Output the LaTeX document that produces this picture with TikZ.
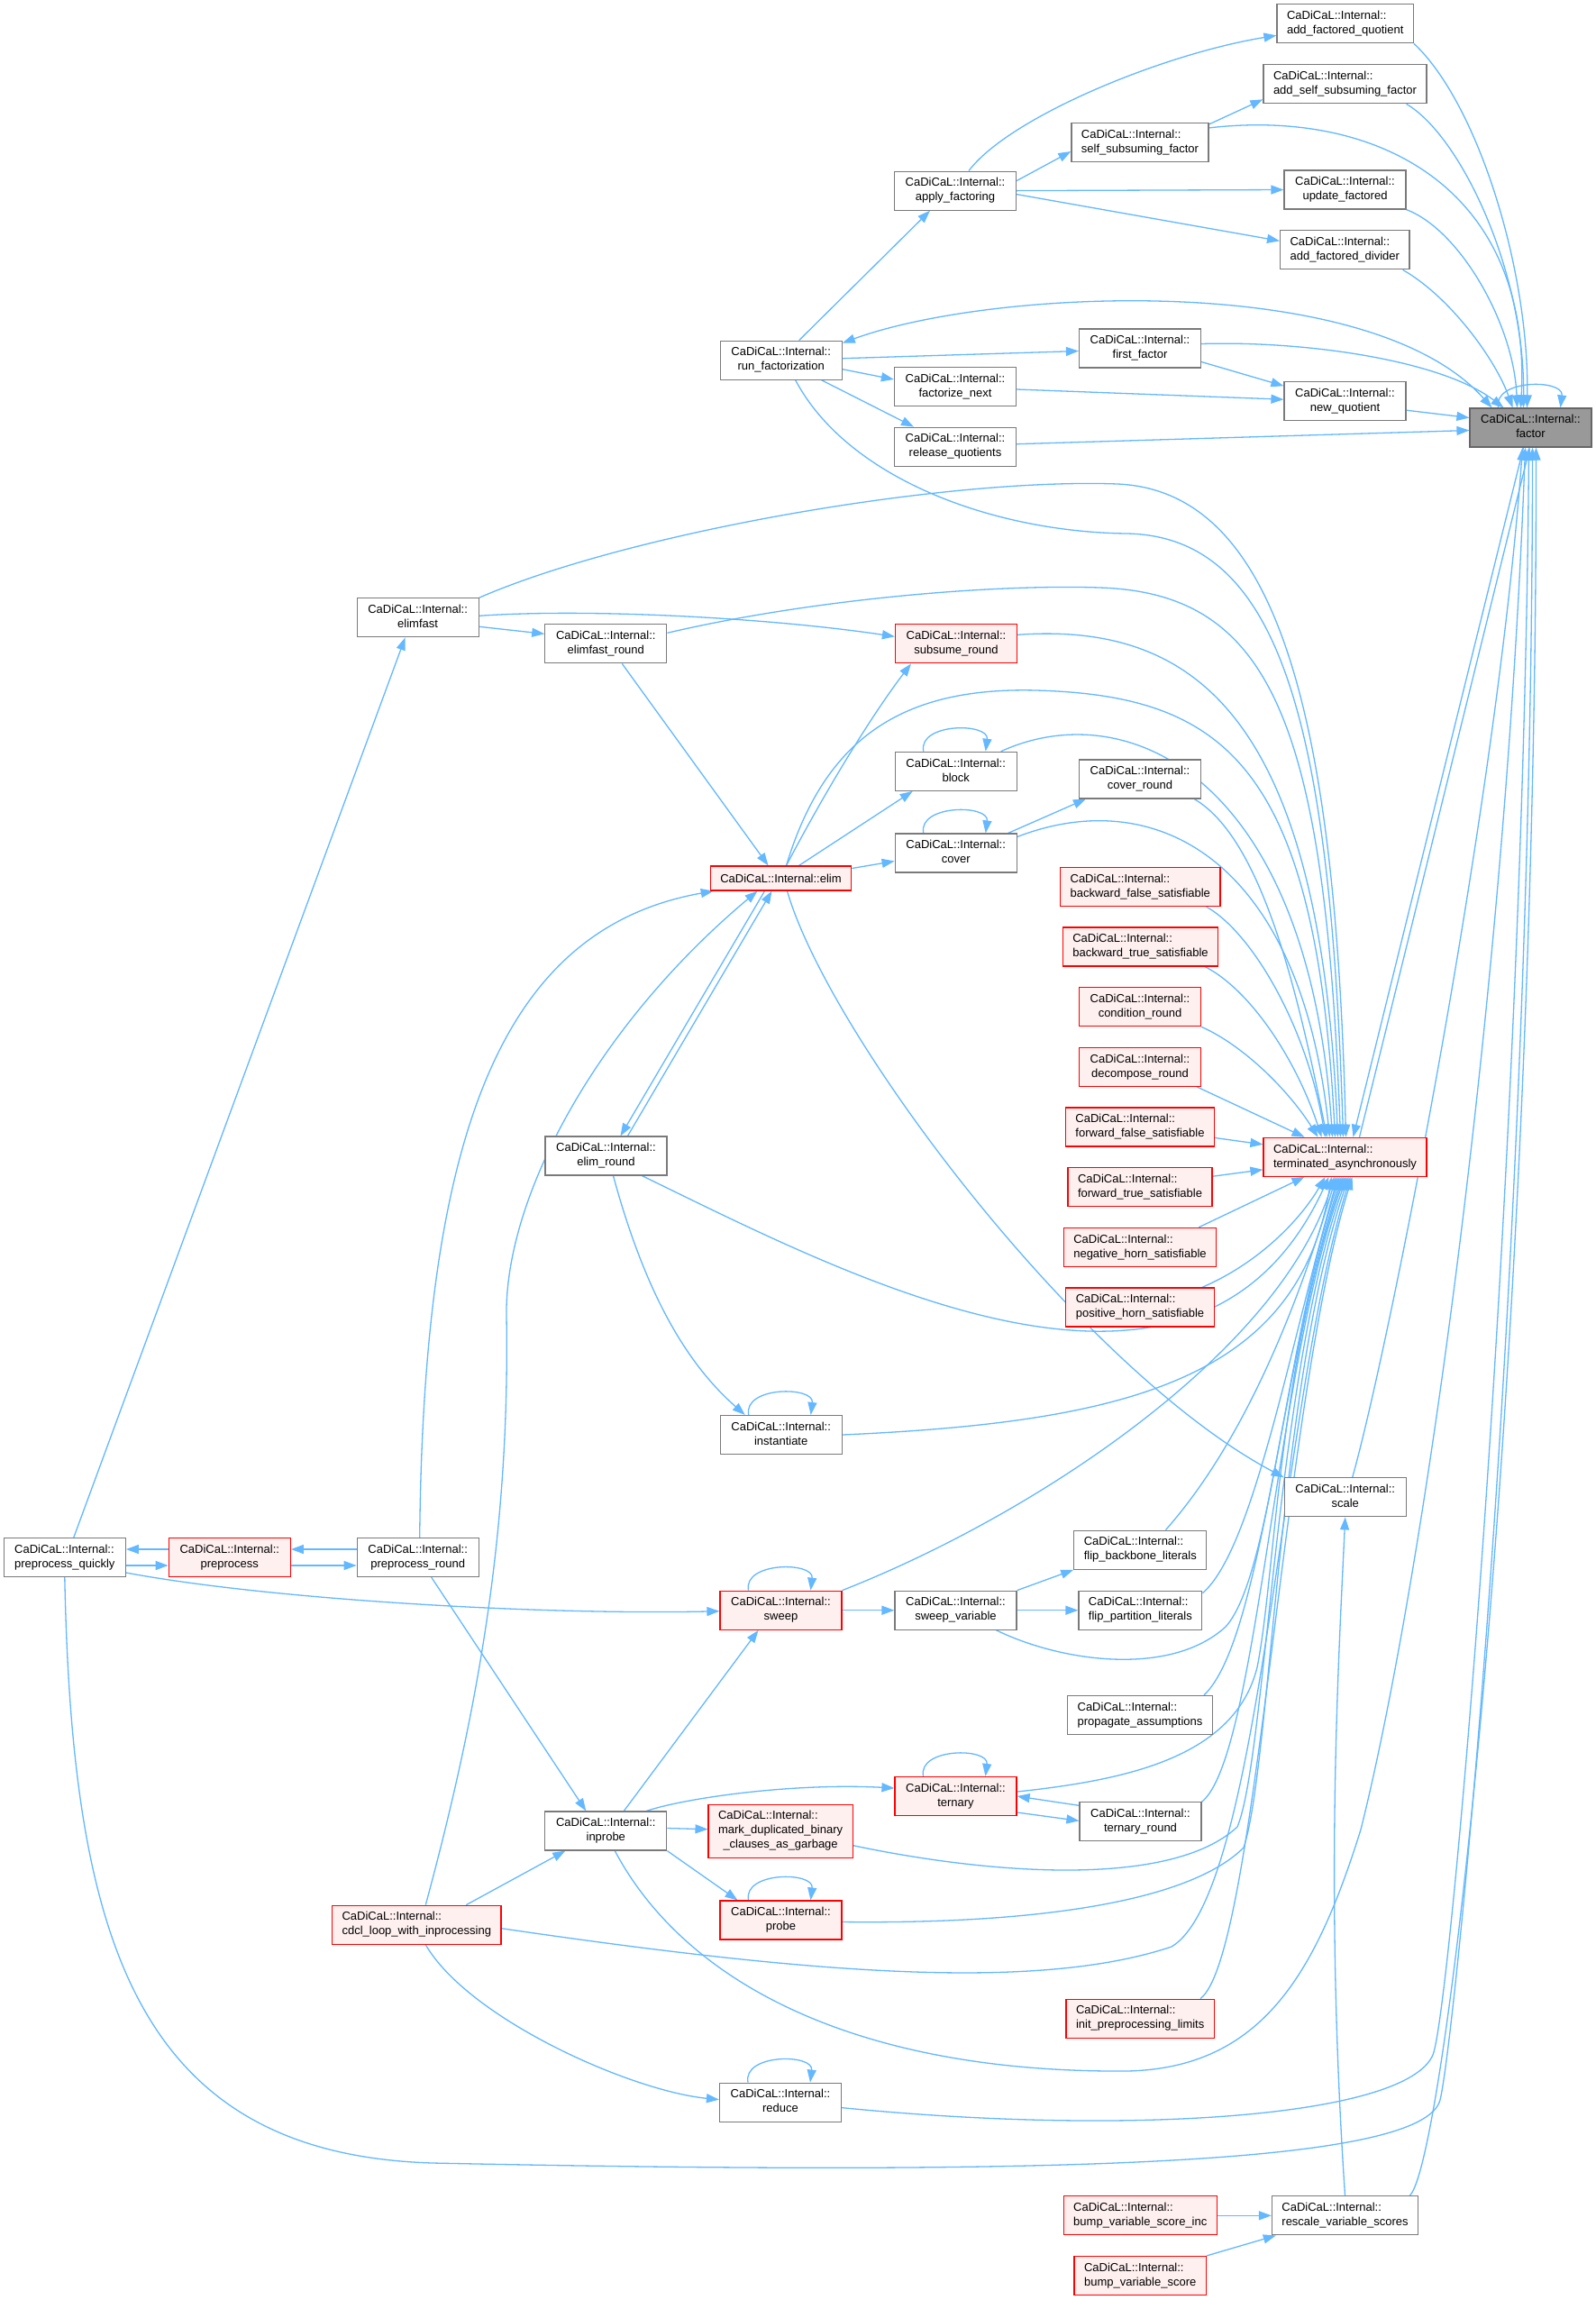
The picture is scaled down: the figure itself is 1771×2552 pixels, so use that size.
\documentclass[tikz,border=0pt]{standalone}
\usepackage{fontspec}
\setmainfont{Liberation Sans}
\usetikzlibrary{arrows.meta}
\pgfdeclarelayer{bg}
\pgfdeclarelayer{edges}
\pgfsetlayers{bg,edges,main}
\definecolor{edgeblue}{HTML}{63B8FF}
\definecolor{ngray}{HTML}{7A7A7A}
\definecolor{redborder}{HTML}{FF0000}
\definecolor{redfill}{HTML}{FFF0F0}
\definecolor{rootfill}{HTML}{999999}
\definecolor{rootborder}{HTML}{666666}
\newcommand{\cglabel}[1]{\begin{tabular}{@{}l@{}}CaDiCaL::Internal::\\\multicolumn{1}{@{}c@{}}{#1}\end{tabular}}
\newcommand{\cgloop}[1]{\draw[cgedge] ([xshift=-36pt]#1.north) .. controls +(-6,-32) and +(4,-32) .. ([xshift=33pt]#1.north);}
\tikzset{
  cgnode/.style={draw=ngray, fill=white, line width=1.2pt, inner xsep=11pt, inner ysep=2pt,
    minimum width=135pt, minimum height=43pt, font=\fontsize{13}{16}\selectfont},
  cgred/.style={cgnode, draw=redborder, fill=redfill},
  cgroot/.style={cgnode, draw=rootborder, fill=rootfill},
  cgedge/.style={draw=edgeblue, line width=1.3pt, ->},
  cgboth/.style={draw=edgeblue, line width=1.3pt, <->}
}
\begin{document}
\begin{tikzpicture}[x=1pt,y=-1pt,>={Triangle[length=14pt,width=10pt]}]
\begin{pgfonlayer}{bg}
\fill[white] (0,0) rectangle (1771,2552);
\end{pgfonlayer}
\useasboundingbox (0,0) rectangle (1771,2552);

% ---------- nodes ----------
\node[cgroot] (factor) at (1698.5,474.5) {\cglabel{factor}};
\node[cgnode] (afq) at (1492.7,26.3) {\cglabel{add\_factored\_quotient}};
\node[cgnode] (assf) at (1492.5,93.3) {\cglabel{add\_self\_subsuming\_factor}};
\node[cgnode] (ssf) at (1265,158) {\cglabel{self\_subsuming\_factor}};
\node[cgnode] (af) at (1060,211.6) {\cglabel{apply\_factoring}};
\node[cgnode] (uf) at (1492.5,210.5) {\cglabel{update\_factored}};
\node[cgnode] (afd) at (1492.3,277.3) {\cglabel{add\_factored\_divider}};
\node[cgnode] (rf) at (866.7,399.7) {\cglabel{run\_factorization}};
\node[cgnode] (ff) at (1265,386.5) {\cglabel{first\_factor}};
\node[cgnode] (fn) at (1060,429) {\cglabel{factorize\_next}};
\node[cgnode] (nq) at (1492.5,445.2) {\cglabel{new\_quotient}};
\node[cgnode] (rq) at (1060,495.7) {\cglabel{release\_quotients}};
\node[cgnode] (elimfast) at (463.6,685.3) {\cglabel{elimfast}};
\node[cgnode] (efr) at (672.3,714.3) {\cglabel{elimfast\_round}};
\node[cgred] (sr) at (1061,714.3) {\cglabel{subsume\_round}};
\node[cgnode] (block) at (1060.7,855.8) {\cglabel{block}};
\node[cgnode] (cr) at (1265,864.4) {\cglabel{cover\_round}};
\node[cgnode] (cover) at (1060.7,946.5) {\cglabel{cover}};
\node[cgred, minimum height=27pt] (elim) at (866.5,974.5) {CaDiCaL::Internal::elim};
\node[cgred] (bfs) at (1265.3,984) {\cglabel{backward\_false\_satisfiable}};
\node[cgred] (bts) at (1265.5,1050.5) {\cglabel{backward\_true\_satisfiable}};
\node[cgred] (cond) at (1265,1117.2) {\cglabel{condition\_round}};
\node[cgred] (decomp) at (1265,1183.8) {\cglabel{decompose\_round}};
\node[cgred] (ffs) at (1265,1250.5) {\cglabel{forward\_false\_satisfiable}};
\node[cgred] (fts) at (1265,1317.2) {\cglabel{forward\_true\_satisfiable}};
\node[cgred] (nhs) at (1265,1383.8) {\cglabel{negative\_horn\_satisfiable}};
\node[cgred] (phs) at (1265,1450.5) {\cglabel{positive\_horn\_satisfiable}};
\node[cgred] (ta) at (1492.5,1283.8) {\cglabel{terminated\_asynchronously}};
\node[cgnode] (er) at (672.5,1282.5) {\cglabel{elim\_round}};
\node[cgnode] (inst) at (866.7,1592) {\cglabel{instantiate}};
\node[cgnode] (scale) at (1492.7,1661.3) {\cglabel{scale}};
\node[cgnode] (pq) at (71.8,1728) {\cglabel{preprocess\_quickly}};
\node[cgred] (pp) at (254.8,1728) {\cglabel{preprocess}};
\node[cgnode] (pr) at (463.7,1728) {\cglabel{preprocess\_round}};
\node[cgnode] (fbl) at (1265.3,1719.7) {\cglabel{flip\_backbone\_literals}};
\node[cgred] (sweep) at (866.5,1786.7) {\cglabel{sweep}};
\node[cgnode] (sv) at (1060.5,1786.7) {\cglabel{sweep\_variable}};
\node[cgnode] (fpl) at (1265.4,1786.7) {\cglabel{flip\_partition\_literals}};
\node[cgnode] (pa) at (1265,1903) {\cglabel{propagate\_assumptions}};
\node[cgred] (ternary) at (1060.5,1993) {\cglabel{ternary}};
\node[cgnode] (tr) at (1265.5,2021.3) {\cglabel{ternary\_round}};
\node[cgred, minimum height=59pt] (mdb) at (866.1,2031.7) {\begin{tabular}{@{}l@{}}CaDiCaL::Internal::\\mark\_duplicated\_binary\\\multicolumn{1}{@{}c@{}}{\_clauses\_as\_garbage}\end{tabular}};
\node[cgred] (probe) at (866.5,2130.5) {\cglabel{probe}};
\node[cgnode] (inprobe) at (672.3,2031.5) {\cglabel{inprobe}};
\node[cgred] (cdcl) at (462.3,2135.7) {\cglabel{cdcl\_loop\_with\_inprocessing}};
\node[cgred] (ipl) at (1265.2,2239.7) {\cglabel{init\_preprocessing\_limits}};
\node[cgnode] (reduce) at (866,2332.6) {\cglabel{reduce}};
\node[cgred] (bvsi) at (1265.3,2458.3) {\cglabel{bump\_variable\_score\_inc}};
\node[cgnode] (rvs) at (1492.5,2458.3) {\cglabel{rescale\_variable\_scores}};
\node[cgred] (bvs) at (1265.2,2525) {\cglabel{bump\_variable\_score}};

\begin{pgfonlayer}{edges}
% ---------- top group ----------
\draw[cgedge] ([xshift=15pt]af.north) .. controls (1120,130) and (1290,60) .. ([yshift=-13pt]afq.west);
\draw[cgedge] ([yshift=-2pt]ssf.north east) -- ([yshift=-17pt]assf.west);
\draw[cgedge] ([yshift=11pt]af.east) -- ([yshift=-10pt]ssf.west);
\draw[cgedge] (af.east) -- (uf.west);
\draw[cgedge] ([yshift=-4pt]af.east) -- ([yshift=10pt]afd.west);
\draw[cgedge] ([xshift=20pt]rf.north) -- ([xshift=-28pt]af.south);
\draw[cgedge] ([yshift=2pt]rf.east) -- ([yshift=-3pt]ff.west);
\draw[cgedge] ([yshift=-10pt]rf.east) -- ([yshift=8pt]fn.west);
\draw[cgedge] ([xshift=45pt]rf.south) -- ([xshift=-46pt]rq.north);
\draw[cgedge] ([yshift=-15pt]ff.east) -- ([yshift=17pt]nq.west);
\draw[cgedge] ([yshift=-3pt]fn.east) -- ([yshift=2pt]nq.west);
\draw[cgedge] ([yshift=3pt]rq.east) -- ([yshift=-3pt]factor.west);
\draw[cgedge] ([yshift=-10pt]nq.east) -- ([yshift=11pt]factor.west);
\draw[cgedge] (afq.south east) .. controls (1640,115) and (1697,300) .. ([xshift=-4pt]factor.north);
\draw[cgedge] ([xshift=-23pt]assf.south east) .. controls (1620,150) and (1692,300) .. ([xshift=-8pt]factor.north);
\draw[cgedge] ([yshift=-6pt]ssf.north east) .. controls (1530,120) and (1700,210) .. ([xshift=-11pt]factor.north);
\draw[cgedge] (uf.south east) .. controls (1620,255) and (1680,360) .. ([xshift=-15pt]factor.north);
\draw[cgedge] ([xshift=-8pt]afd.south east) .. controls (1610,330) and (1660,400) .. ([xshift=-20pt]factor.north);
\draw[cgedge] ([yshift=5pt]ff.east) .. controls (1450,378) and (1600,400) .. ([xshift=-30pt]factor.north);
\draw[cgboth] ([xshift=-43pt]factor.north) .. controls (1520,300) and (1100,320) .. ([yshift=-3pt]rf.north east);
\cgloop{factor}
\draw[cgedge] ([xshift=-8pt]factor.south) -- ([xshift=9pt]ta.north);
\draw[cgedge] ([xshift=16pt]ta.north) -- ([xshift=-1pt]factor.south);

% ---------- middle group ----------
\draw[cgedge] ([yshift=-10pt]elimfast.east) -- ([yshift=11pt]efr.west);
\draw[cgedge] ([yshift=2pt]elimfast.east) .. controls (650,675) and (850,685) .. ([yshift=8pt]sr.west);
\draw[cgedge] (elimfast.north east) .. controls (700,590) and (1050,530) .. (1240,537) .. controls (1420,545) and (1482,800) .. ([xshift=1pt]ta.north);
\draw[cgedge] ([xshift=16pt]rf.south) .. controls (940,530) and (1100,590) .. (1250,592) .. controls (1420,595) and (1476,800) .. ([xshift=-2pt]ta.north);
\draw[cgedge] ([xshift=18pt]efr.south) -- ([xshift=-14pt]elim.north);
\draw[cgedge] ([yshift=12pt]efr.east) .. controls (900,665) and (1100,648) .. (1220,652) .. controls (1410,658) and (1470,800) .. ([xshift=-5pt]ta.north);
\draw[cgedge] ([yshift=10pt]sr.east) .. controls (1330,690) and (1465,800) .. ([xshift=-8pt]ta.north);
\draw[cgedge] ([xshift=6pt]elim.north) .. controls (920,870) and (970,790) .. ([xshift=-50pt]sr.south);
\draw[cgedge] ([xshift=6pt]elim.north) .. controls (915,820) and (1000,762) .. (1150,766) .. controls (1360,772) and (1460,850) .. ([xshift=-11pt]ta.north);
\draw[cgedge] ([xshift=20pt]elim.north) -- ([xshift=-48pt]block.south);
\draw[cgedge] ([yshift=11pt]elim.east) -- ([yshift=-9pt]cover.west);
\cgloop{block}
\cgloop{cover}
\draw[cgedge] ([xshift=50pt]block.north) .. controls (1250,770) and (1452,860) .. ([xshift=-14pt]ta.north);
\draw[cgedge] ([yshift=18pt]cover.east) .. controls (1280,870) and (1442,950) .. ([xshift=-17pt]ta.north);
\draw[cgedge] ([xshift=58pt]cover.north) -- ([xshift=-60pt]cr.south);
\draw[cgedge] ([xshift=-8pt]cr.south east) .. controls (1400,930) and (1440,1100) .. ([xshift=-20pt]ta.north);
\draw[cgedge] ([xshift=-16pt]bfs.south east) .. controls (1390,1035) and (1450,1140) .. ([xshift=-22pt]ta.north);
\draw[cgedge] ([xshift=-15pt]bts.south east) .. controls (1390,1100) and (1440,1180) .. ([xshift=-26pt]ta.north);
\draw[cgedge] (cond.south east) .. controls (1380,1160) and (1430,1210) .. ([xshift=-30pt]ta.north);
\draw[cgedge] ([xshift=-5pt]decomp.south east) -- ([xshift=-45pt]ta.north);
\draw[cgedge] ([yshift=-12pt]ffs.east) -- ([yshift=14pt]ta.west);
\draw[cgedge] ([yshift=12pt]fts.east) -- ([yshift=-14pt]ta.west);
\draw[cgedge] ([xshift=-20pt]nhs.north east) -- ([xshift=-45pt]ta.south);
\draw[cgedge] ([xshift=-14pt]phs.north east) .. controls (1400,1400) and (1445,1350) .. ([xshift=-22pt]ta.south);

% ---------- lower group into terminated ----------
\draw[cgedge] ([xshift=-18pt]elim.south) -- ([xshift=16pt]er.north);
\draw[cgedge] ([xshift=24pt]er.north) -- ([xshift=-10pt]elim.south);
\draw[cgedge] ([xshift=8pt]er.south) .. controls (720,1450) and (770,1520) .. ([xshift=-40pt]inst.north);
\cgloop{inst}
\draw[cgedge] ([xshift=40pt]er.south) .. controls (950,1420) and (1330,1620) .. ([xshift=-18pt]ta.south);
\draw[cgedge] (inst.east) .. controls (1250,1578) and (1440,1530) .. ([xshift=-15pt]ta.south);
\draw[cgedge] (sweep.north east) .. controls (1150,1680) and (1420,1500) .. ([xshift=-12pt]ta.south);
\draw[cgedge] ([xshift=-46pt]fbl.north east) .. controls (1380,1600) and (1440,1450) .. ([xshift=-10pt]ta.south);
\draw[cgedge] ([yshift=-3pt]fpl.north east) .. controls (1390,1720) and (1430,1500) .. ([xshift=-8pt]ta.south);
\draw[cgedge] ([xshift=45pt]sv.south) .. controls (1180,1845) and (1300,1860) .. (1360,1805) .. controls (1410,1750) and (1425,1500) .. ([xshift=-6pt]ta.south);
\draw[cgedge] ([xshift=-10pt]pa.north east) .. controls (1400,1820) and (1420,1520) .. ([xshift=-4pt]ta.south);
\draw[cgedge] ([yshift=5pt]ternary.east) .. controls (1250,1975) and (1370,1950) .. (1395,1850) .. controls (1415,1750) and (1418,1520) .. ([xshift=-2pt]ta.south);
\draw[cgedge] (tr.north east) .. controls (1395,1950) and (1415,1520) .. (ta.south);
\draw[cgedge] ([yshift=-16pt]mdb.east) .. controls (1100,2080) and (1300,2095) .. (1373,2027) .. controls (1405,1950) and (1415,1530) .. ([xshift=2pt]ta.south);
\draw[cgedge] ([yshift=-2pt]probe.east) .. controls (1150,2135) and (1320,2110) .. (1380,2050) .. controls (1410,1960) and (1418,1540) .. ([xshift=4pt]ta.south);
\draw[cgedge] ([yshift=-4pt]cdcl.east) .. controls (900,2190) and (1150,2210) .. (1300,2160) .. controls (1400,2100) and (1420,1560) .. ([xshift=6pt]ta.south);
\draw[cgedge] ([xshift=-16pt]ipl.north east) .. controls (1395,2170) and (1422,1560) .. ([xshift=8pt]ta.south);

% ---------- sweep / ternary / probe ----------
\cgloop{sweep}
\draw[cgedge] (sweep.east) -- (sv.west);
\draw[cgedge] (sv.north east) -- (fbl.south west);
\draw[cgedge] (sv.east) -- (fpl.west);
\cgloop{ternary}
\draw[cgedge] ([yshift=-18pt]ternary.east) -- ([yshift=1pt]tr.west);
\draw[cgedge] ([yshift=18pt]tr.west) -- (ternary.east);
\cgloop{probe}
\cgloop{reduce}

% ---------- left group ----------
\draw[cgedge] ([xshift=10pt]pq.north) -- ([xshift=-14pt]elimfast.south);
\draw[cgedge] ([yshift=9pt]pp.west) -- ([yshift=9pt]pq.east);
\draw[cgedge] ([yshift=-9pt]pq.east) -- ([yshift=-9pt]pp.west);
\draw[cgedge] ([yshift=9pt]pr.west) -- ([yshift=9pt]pp.east);
\draw[cgedge] ([yshift=-9pt]pp.east) -- ([yshift=-9pt]pr.west);
\draw[cgedge] ([xshift=2pt]pr.north) .. controls (470,1250) and (560,1030) .. ([xshift=4pt]elim.south west);
\draw[cgedge] ([xshift=15pt]pr.south) -- ([xshift=-22pt]inprobe.north);
\draw[cgedge] ([yshift=-17pt]pq.east) .. controls (300,1775) and (600,1792) .. ([yshift=-1pt]sweep.west);
\draw[cgedge] ([xshift=10pt]cdcl.north) .. controls (530,1900) and (566,1700) .. (562,1460) .. controls (560,1330) and (660,1140) .. ([xshift=-26pt]elim.south);
\draw[cgedge] ([xshift=55pt]cdcl.north) -- ([xshift=-45pt]inprobe.south);
\draw[cgedge] ([xshift=10pt]cdcl.south) .. controls (520,2240) and (700,2320) .. ([yshift=3pt]reduce.west);
\draw[cgedge] ([xshift=20pt]inprobe.north) -- ([xshift=-25pt]sweep.south);
\draw[cgedge] ([xshift=45pt]inprobe.north) .. controls (760,1995) and (880,1978) .. ([yshift=9pt]ternary.west);
\draw[cgedge] ([yshift=3pt]inprobe.east) -- ([yshift=2pt]mdb.west);
\draw[cgedge] (inprobe.south east) -- ([xshift=-48pt]probe.north);

% ---------- long edges to factor and scale ----------
\draw[cgedge] ([xshift=10pt]inprobe.south) .. controls (760,2200) and (950,2300) .. (1250,2298) .. controls (1400,2295) and (1460,2190) .. (1510,2030) .. controls (1580,1750) and (1670,1100) .. ([xshift=-6pt]factor.south);
\draw[cgedge] ([yshift=-6pt]reduce.east) .. controls (1250,2370) and (1560,2350) .. (1590,2280) .. controls (1610,2230) and (1690,1300) .. ([xshift=-2pt]factor.south);
\draw[cgedge] (pq.south) .. controls (80,2150) and (150,2390) .. (480,2400) .. controls (1200,2415) and (1580,2400) .. (1598,2330) .. controls (1615,2260) and (1700,1400) .. ([xshift=2pt]factor.south);
\draw[cgedge] ([xshift=-10pt]rvs.north east) .. controls (1605,2400) and (1705,1500) .. ([xshift=6pt]factor.south);
\draw[cgedge] ([xshift=8pt]scale.north) .. controls (1540,1500) and (1660,900) .. ([xshift=-9pt]factor.south);
\draw[cgedge] ([xshift=7pt]elim.south) .. controls (920,1150) and (1200,1520) .. (scale.north west);
\draw[cgedge] (rvs.north) .. controls (1470,2100) and (1485,1850) .. (scale.south);
\draw[cgedge] (bvsi.east) -- (rvs.west);
\draw[cgedge] (bvs.north east) -- ([xshift=5pt]rvs.south west);
\end{pgfonlayer}
\end{tikzpicture}
\end{document}
